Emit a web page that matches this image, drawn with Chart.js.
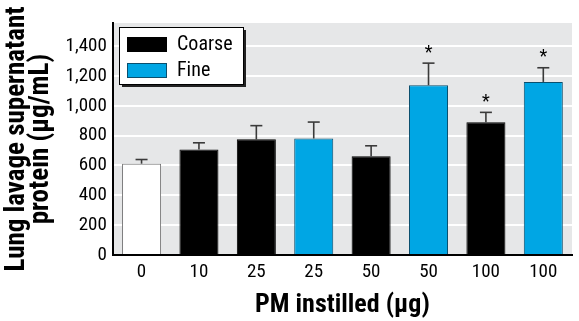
<!DOCTYPE html>
<html><head><meta charset="utf-8">
<script src="https://cdn.jsdelivr.net/npm/chart.js@4/dist/chart.umd.min.js"></script>
<style>html,body{margin:0;padding:0;background:#fff}#wrap{width:579px;height:321px}</style>
</head><body><div id="wrap"><canvas id="c" width="579" height="321"></canvas></div>
<script>
const categories = ['0','10','25','25','50','50','100','100'];
const groups = ['Control','Coarse','Coarse','Fine','Coarse','Fine','Coarse','Fine'];
const means = [612, 707, 775, 781, 662, 1138, 890, 1160];
const errors = [28, 45, 92, 110, 70, 148, 66, 95];
const significant = [false, false, false, false, false, true, true, true];
const legendLabels = ['Coarse', 'Fine'];
const yTicks = [0,200,400,600,800,1000,1200,1400];

const FONT = '"Liberation Sans Narrow","Arial Narrow","Roboto Condensed","Liberation Sans",Arial,sans-serif';
const palette = {Control:'#ffffff', Coarse:'#000000', Fine:'#00a6e4'};
const borders = {Control:'#777777', Coarse:'#000000', Fine:'#0a4f6e'};

const bgPlugin = {
  id:'bg',
  beforeDraw(chart){
    const {ctx, chartArea:a} = chart;
    ctx.save(); ctx.fillStyle='#e6e7e8';
    ctx.fillRect(a.left, a.top, a.right-a.left, a.bottom-a.top);
    ctx.restore();
  }
};
const errPlugin = {
  id:'err',
  afterDatasetsDraw(chart){
    const {ctx} = chart;
    const meta = chart.getDatasetMeta(0);
    const y = chart.scales.y;
    ctx.save();
    meta.data.forEach((bar,i)=>{
      const top = y.getPixelForValue(means[i]+errors[i]);
      const x = bar.x;
      ctx.strokeStyle='#3a3a3a'; ctx.lineWidth=1.6;
      ctx.beginPath(); ctx.moveTo(x, bar.y); ctx.lineTo(x, top); ctx.stroke();
      ctx.beginPath(); ctx.moveTo(x-6, top); ctx.lineTo(x+6, top); ctx.stroke();
      if(significant[i]){
        ctx.fillStyle='#000'; ctx.font='18px '+FONT; ctx.textAlign='center'; ctx.textBaseline='middle';
        ctx.fillText('*', x, top-10);
      }
    });
    // legend
    const lx=119, ly=27, lw=124, lh=57;
    ctx.fillStyle='#222'; ctx.fillRect(lx+3, ly+3, lw, lh);
    ctx.fillStyle='#fff'; ctx.fillRect(lx, ly, lw, lh);
    ctx.strokeStyle='#000'; ctx.lineWidth=1; ctx.strokeRect(lx+0.5, ly+0.5, lw, lh);
    legendLabels.forEach((lab,k)=>{
      const sy = ly+10+k*26;
      ctx.fillStyle=palette[lab]; ctx.fillRect(lx+8, sy, 40, 15);
      ctx.strokeStyle=borders[lab]; ctx.strokeRect(lx+8.5, sy+0.5, 39, 14);
      ctx.fillStyle='#000'; ctx.font='20px '+FONT; ctx.textAlign='left'; ctx.textBaseline='middle';
      ctx.fillText(lab, lx+58, sy+8);
    });
    ctx.restore();
  }
};

new Chart(document.getElementById('c'), {
  type:'bar',
  data:{labels:categories, datasets:[{
    data:means,
    backgroundColor:groups.map(g=>palette[g]),
    borderColor:groups.map(g=>borders[g]),
    borderWidth:1,
    barPercentage:0.68, categoryPercentage:1
  }]},
  options:{
    responsive:false, animation:false,
    layout:{padding:{top:23,right:7,left:5,bottom:0}},
    plugins:{legend:{display:false}, tooltip:{enabled:false}},
    scales:{
      x:{
        grid:{display:false, drawTicks:false},
        border:{display:true, color:'#000', width:2},
        ticks:{color:'#000', font:{family:FONT, size:19}, padding:6},
        title:{display:true, text:'PM instilled (µg)', color:'#000', font:{family:FONT, size:26, weight:'bold'}, padding:{top:0,bottom:0}}
      },
      y:{
        min:0, max:1555,
        afterBuildTicks(s){ s.ticks = yTicks.map(v=>({value:v})); },
        grid:{color:(c)=>c.tick && c.tick.value===0 ? 'rgba(0,0,0,0)' : '#ffffff', lineWidth:2, drawTicks:false},
        border:{display:true, color:'#000', width:2},
        ticks:{color:'#000', font:{family:FONT, size:19}, padding:6,
          callback:(v)=>v.toLocaleString('en-US')},
        title:{display:true, text:['Lung lavage supernatant','protein (µg/mL)'], color:'#000',
          font:{family:FONT, size:27, weight:'bold', lineHeight:0.9}, padding:{top:0,bottom:6}}
      }
    }
  },
  plugins:[bgPlugin, errPlugin]
});
</script></body></html>
